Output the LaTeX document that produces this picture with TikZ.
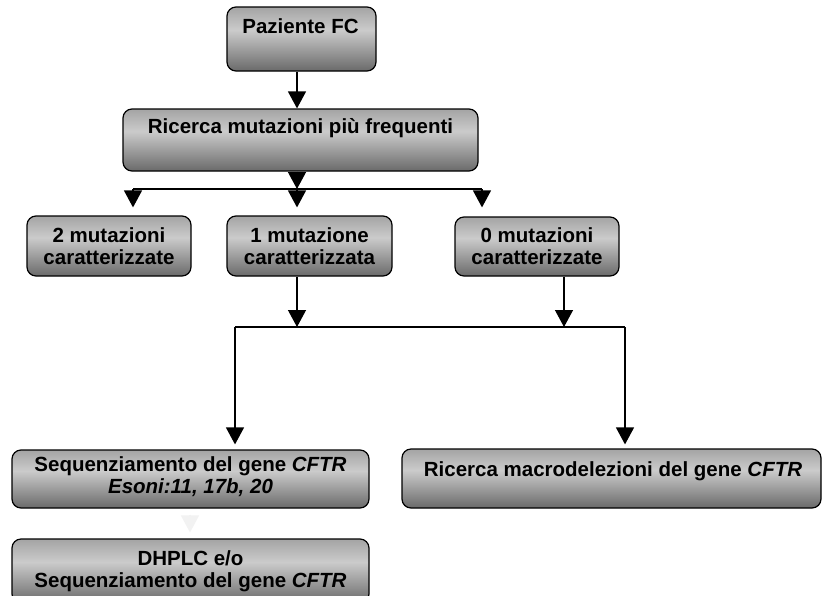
\documentclass[tikz,border=0pt]{standalone}
\usepackage{fontspec}
\setmainfont{Liberation Sans}
\usetikzlibrary{arrows.meta}

\definecolor{shTop}{HTML}{A4A4A4}
\definecolor{shMid}{HTML}{CBCBCB}
\definecolor{shBot}{HTML}{6A6A6A}
\definecolor{faintgray}{HTML}{F2F2F2}
% vertical shading: bottom dark, light band in the upper part, grey at the top
\pgfdeclareverticalshading{boxshade}{100bp}{color(0bp)=(shBot); color(25bp)=(shBot); color(57bp)=(shMid); color(75bp)=(shTop); color(100bp)=(shTop)}

\tikzset{
  box/.style={rectangle, rounded corners=9pt, draw=black, line width=1.2pt,
    shading=boxshade, inner sep=0pt},
  txt/.style={font=\bfseries\fontsize{20.5}{22}\selectfont, align=center, inner sep=0pt},
  ln/.style={line width=1.3pt, draw=black},
  arr/.style={ln, -{Triangle[width=18pt,length=17pt]}},
  faintarr/.style={line width=1.3pt, draw=faintgray, -{Triangle[width=18pt,length=17pt]}}
}

\begin{document}
\begin{tikzpicture}[x=1pt, y=-1pt]
\clip (0,0) rectangle (822,595);
\fill[white] (0,0) rectangle (822,595);

% boxes
\node[box, minimum width=149pt, minimum height=64pt] (paz) at (301.5,39) {};
\node[box, minimum width=355pt, minimum height=62pt] (ric) at (300.5,140) {};
\node[box, minimum width=164pt, minimum height=60pt] (m2) at (109,246) {};
\node[box, minimum width=165pt, minimum height=60pt] (m1) at (309.5,246) {};
\node[box, minimum width=164pt, minimum height=59pt] (m0) at (537,246.5) {};
\node[box, minimum width=357pt, minimum height=58pt] (seq) at (190.5,479) {};
\node[box, minimum width=419pt, minimum height=59pt] (mac) at (611.5,478.5) {};
\node[box, minimum width=357pt, minimum height=64pt] (dh) at (190.5,571) {};

% texts
\node[txt, anchor=base] (pazT) at (300.5,33) {Paziente FC};
\node[txt, anchor=base] (ricT) at (300.5,133) {Ricerca mutazioni più frequenti};
\node[txt] (m2T) at (109,246.5) {2 mutazioni\\caratterizzate};
\node[txt] (m1T) at (309.5,246.5) {1 mutazione\\caratterizzata};
\node[txt] (m0T) at (537,246.5) {0 mutazioni\\caratterizzate};
\node[txt] (seqT) at (190.5,477) {Sequenziamento del gene \textit{CFTR}\\\textit{Esoni:11, 17b, 20}};
\node[txt, anchor=base] (macT) at (613,476) {Ricerca macrodelezioni del gene \textit{CFTR}};
\node[txt] (dhT) at (190.5,571) {DHPLC e/o\\Sequenziamento del gene \textit{CFTR}};

% junction points
\coordinate (s1) at (297,189);
\coordinate (sl) at (133,189);
\coordinate (sr) at (482,189);
\coordinate (j1) at (297,327);
\coordinate (j0) at (564,327);
\coordinate (ml) at (235,327);
\coordinate (mr) at (625,327);
\coordinate (fx) at (190,0);

% connectors
\draw[arr] (s1 |- paz.south) -- (s1 |- ric.north);
\draw[arr] (s1 |- ric.south) -- (s1);
\draw[ln] (sl) -- (sr);
\draw[arr, shorten >=8pt] (sl) -- (sl |- m2.north);
\draw[arr, shorten >=8pt] (s1) -- (s1 |- m1.north);
\draw[arr, shorten >=9pt] (sr) -- (sr |- m0.north);

\draw[arr] (j1 |- m1.south) -- (j1);
\draw[arr] (j0 |- m0.south) -- (j0);
\draw[ln] (ml) -- (mr);
\draw[arr, shorten >=5pt] (ml) -- (ml |- seq.north);
\draw[arr, shorten >=4pt] (mr) -- (mr |- mac.north);

\draw[faintarr, shorten <=6pt, shorten >=6pt] (fx |- seq.south) -- (fx |- dh.north);
\end{tikzpicture}
\end{document}
